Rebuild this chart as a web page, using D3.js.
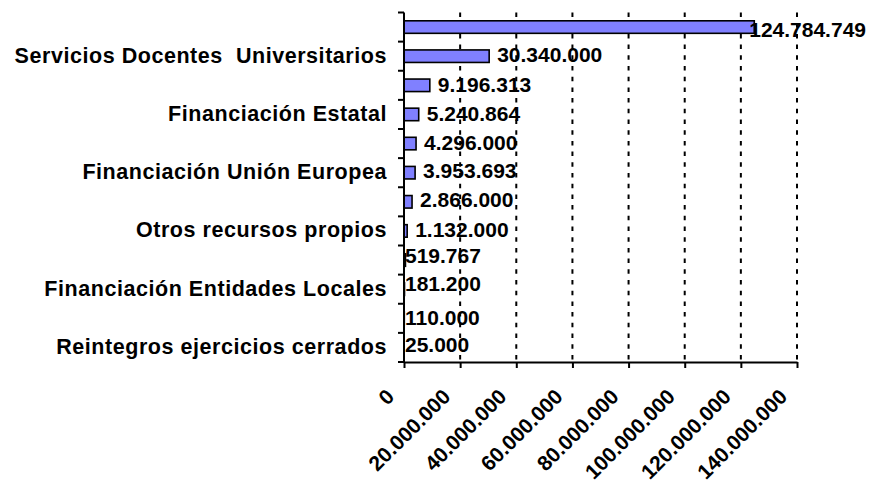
<!DOCTYPE html>
<html>
<head>
<meta charset="utf-8">
<script src="https://cdn.jsdelivr.net/npm/d3@7"></script>
<style>
  body { margin: 0; background: #fff; }
  svg text { font-family: "Liberation Sans", Arial, sans-serif; font-weight: bold; fill: #000; }
</style>
</head>
<body>
<div id="chart"></div>
<script>
// categories top to bottom; only every second one gets a label (as in the original)
var categories = [
    "Financiación Autonómica",
    "Servicios Docentes  Universitarios",
    "Transferencias corrientes",
    "Financiación Estatal",
    "Ingresos patrimoniales",
    "Financiación Unión Europea",
    "Pasivos financieros",
    "Otros recursos propios",
    "Financiación privada",
    "Financiación Entidades Locales",
    "Activos financieros",
    "Reintegros ejercicios cerrados"
];
var values = [124784749, 30340000, 9196313, 5240864, 4296000, 3953693,
              2866000, 1132000, 519767, 181200, 110000, 25000];
var xTicks = [0, 20000000, 40000000, 60000000, 80000000, 100000000, 120000000, 140000000];

// small vertical nudges of the value labels (Excel moved some to avoid overlap)
var labelNudge = [2.6, -2, -1.1, -1.1, -1.4, -2.4, -1.8, -1.7, -4.6, -6, -0.9, -2.8];

var width = 872,
    height = 482;

var es = d3.formatLocale({decimal: ",", thousands: ".", grouping: [3], currency: ["", " €"]});
var fmt = es.format(",d");

var svg = d3.select("#chart")
    .append("svg")
    .attr("width", width)
    .attr("height", height);

var x = d3.scaleLinear()
    .domain([0, 140000000])
    .range([404, 797]);

var y = d3.scaleBand()
    .domain(d3.range(categories.length))
    .range([12.5, 362])
    .paddingInner(0.57)
    .paddingOuter(0.285);

var top0 = y.range()[0], bottom0 = y.range()[1], step = y.step();

// dashed gridlines
svg.append("g")
    .selectAll("line")
    .data(xTicks.slice(1))
    .join("line")
    .attr("x1", d => x(d))
    .attr("x2", d => x(d))
    .attr("y1", top0)
    .attr("y2", bottom0)
    .style("stroke", "#000")
    .style("stroke-width", 2)
    .style("stroke-dasharray", "4.5,6.2");

// bars
svg.append("g")
    .selectAll("rect")
    .data(values)
    .join("rect")
    .attr("x", x(0))
    .attr("y", (d, i) => y(i))
    .attr("width", d => x(d) - x(0))
    .attr("height", y.bandwidth())
    .style("fill", "#8080FF")
    .style("stroke", "#000")
    .style("stroke-width", 1.6);

// x axis
var xAxis = svg.append("g")
    .attr("transform", "translate(0," + bottom0 + ")")
    .call(d3.axisBottom(x).tickValues(xTicks).tickSize(6).tickSizeOuter(0).tickFormat(fmt));

xAxis.select(".domain").style("stroke-width", 2);
xAxis.selectAll(".tick line").style("stroke-width", 2);
xAxis.selectAll(".tick text")
    .attr("x", 0)
    .attr("y", 0)
    .attr("dy", 0)
    .attr("text-anchor", "end")
    .attr("transform", "translate(-9,36) rotate(-45)")
    .style("font-size", "21px")
    .style("font-family", "\"Liberation Sans\", Arial, sans-serif")
    .style("font-weight", "bold");

// y axis with ticks between categories
var yAxis = svg.append("g");
yAxis.append("line")
    .attr("x1", x(0)).attr("x2", x(0))
    .attr("y1", top0).attr("y2", bottom0)
    .style("stroke", "#000")
    .style("stroke-width", 2);
yAxis.selectAll(".ytick")
    .data(d3.range(categories.length + 1))
    .join("line")
    .attr("class", "ytick")
    .attr("x1", x(0) - 6).attr("x2", x(0))
    .attr("y1", i => top0 + i * step)
    .attr("y2", i => top0 + i * step)
    .style("stroke", "#000")
    .style("stroke-width", 2);

// category labels (every second one)
svg.append("g")
    .selectAll("text")
    .data(categories.map((c, i) => ({c: c, i: i})).filter(d => d.i % 2 === 1))
    .join("text")
    .attr("x", 387)
    .attr("y", d => y(d.i) + y.bandwidth() / 2 + 6.5)
    .attr("text-anchor", "end")
    .style("font-size", "21.5px")
    .style("letter-spacing", "0.55px")
    .style("white-space", "pre")
    .text(d => d.c);

// value labels
svg.append("g")
    .selectAll("text")
    .data(values)
    .join("text")
    .attr("x", d => d < 1000000 ? x(0) + 1 : x(d) + 8)
    .attr("y", (d, i) => y(i) + y.bandwidth() / 2 + 7.4 + labelNudge[i])
    .style("font-size", "21px")
    .text(d => fmt(d))
    .each(function () {
        var len = this.getComputedTextLength();
        var lx = +d3.select(this).attr("x");
        if (lx + len > 866) d3.select(this).attr("x", 866 - len);
    });
</script>
</body>
</html>
